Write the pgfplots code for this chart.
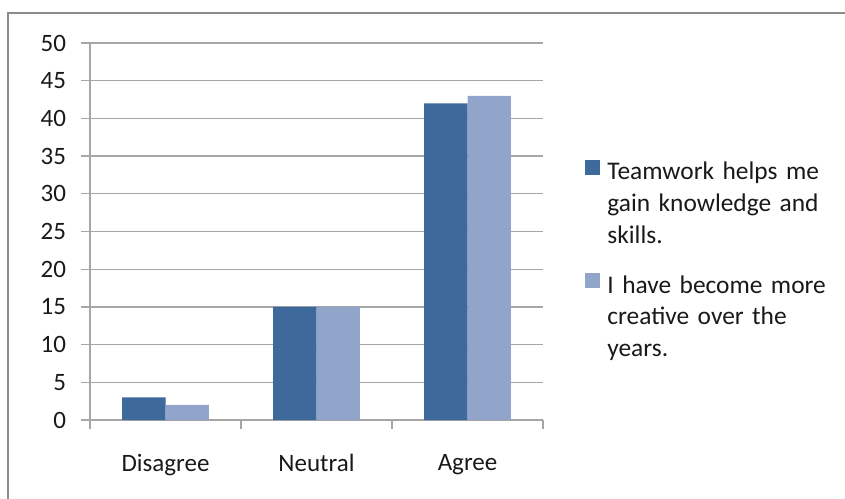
\documentclass[border=0pt]{standalone}
\usepackage{pgfplots}
\pgfplotsset{compat=1.18}
\usepackage{fontspec}
\setmainfont{Carlito}
\definecolor{dblue}{HTML}{3D6A9A}
\definecolor{lblue}{HTML}{91A5CB}
\definecolor{gridc}{HTML}{A6A6A6}
\definecolor{framec}{HTML}{8C8C8C}
\begin{document}
\begin{tikzpicture}
\useasboundingbox (0,0) rectangle (422.5pt,249pt);
\draw[framec, line width=1pt] (4pt,-5pt) -- (4pt,242.5pt) -- (430pt,242.5pt);
\begin{axis}[
  at={(45pt,39pt)}, anchor=south west,
  scale only axis, width=226.5pt, height=188.5pt,
  ymin=0, ymax=50, ytick={0,5,...,50},
  xmin=-0.5, xmax=2.5,
  xtick={-0.5,0.5,1.5,2.5}, xticklabels={},
  extra x ticks={0,1,2}, extra x tick labels={Disagree,Neutral,Agree},
  extra x tick style={major tick length=0pt, grid=none},
  ymajorgrids, grid style={gridc, line width=0.6pt},
  axis lines*=left, axis line style={gridc, line width=0.6pt},
  tick style={gridc, line width=0.6pt},
  tick align=outside, major tick length=4.5pt,
  ybar=0pt, bar width=21.65pt,
  font=\fontsize{12.5}{15}\selectfont,
  /pgf/number format/assume math mode=true,
  yticklabel style={xshift=-4pt, text=black!90},
  xticklabel style={yshift=-13.5pt, text=black!90},
  legend cell align=left,
  legend style={at={(1.0927,0.692)}, anchor=north west, draw=none, fill=none,
    inner sep=0pt, row sep=45pt, column sep=3.5pt,
    font=\fontsize{12.7}{15.85}\selectfont,
    nodes={inner sep=0pt, text width=120pt, align=left, text=black!90}},
  legend image code/.code={\fill[#1] (0pt,-1pt) rectangle (7.5pt,6.5pt);},
]
\addplot[fill=dblue, draw=none] coordinates {(0,3) (1,15) (2,42)};
\addplot[fill=lblue, draw=none] coordinates {(0,2) (1,15) (2,43)};
\legend{Teamwork helps me\\gain knowledge and\\skills., I have become more\\creative over the\\years.}
\end{axis}
\end{tikzpicture}
\end{document}
